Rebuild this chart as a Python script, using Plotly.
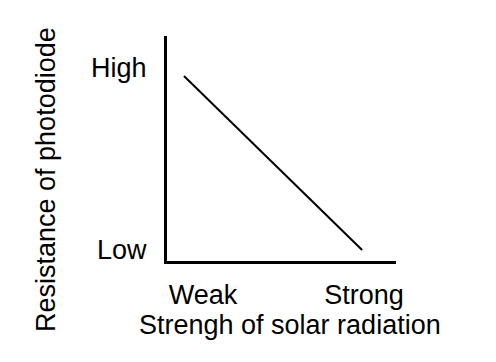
import plotly.graph_objects as go

# Data (normalized, qualitative)
radiation = [0.074, 0.852]
resistance = [0.822, 0.049]
x_tick_vals = [0.157, 0.86]
x_tick_text = ["Weak", "Strong"]
y_tick_vals = [0.858, 0.049]
y_tick_text = ["High", "Low"]
x_title = "Strengh of solar radiation"
y_title = "Resistance of photodiode"

OFF = 8  # page body margin
W, H = 496 - OFF, 362 - OFF
L, R, T, B = 167 - OFF, 396 - OFF, 36 - OFF, 261 - OFF
FONT = "Liberation Sans, Arial, sans-serif"
FS = 27

fig = go.Figure()
fig.add_trace(go.Scatter(x=radiation, y=resistance, mode="lines",
                         line=dict(color="black", width=2), showlegend=False,
                         hoverinfo="skip"))

fig.update_layout(
    width=W, height=H,
    margin=dict(l=L, r=W - R, t=T, b=H - B, pad=0),
    paper_bgcolor="white", plot_bgcolor="white",
    font=dict(family=FONT, size=FS, color="black"),
    xaxis=dict(range=[0, 1], showline=True, linecolor="black", linewidth=3,
               showgrid=False, zeroline=False, ticks="",
               tickvals=x_tick_vals, ticktext=x_tick_text,
               ticklabelstandoff=8, fixedrange=True),
    yaxis=dict(range=[0, 1], showline=True, linecolor="black", linewidth=3,
               showgrid=False, zeroline=False, ticks="",
               tickvals=y_tick_vals, ticktext=y_tick_text,
               ticklabelstandoff=12, fixedrange=True),
    annotations=[
        dict(text=x_title, xref="paper", yref="paper",
             x=(290 - OFF - L) / (R - L), y=(B - (325 - OFF)) / (B - T),
             showarrow=False, xanchor="center", yanchor="middle",
             font=dict(size=FS)),
        dict(text=y_title, xref="paper", yref="paper", textangle=-90,
             x=(46 - OFF - L) / (R - L), y=(B - (180 - OFF)) / (B - T),
             showarrow=False, xanchor="center", yanchor="middle",
             font=dict(size=FS)),
    ],
)

fig.write_html("out.html")
